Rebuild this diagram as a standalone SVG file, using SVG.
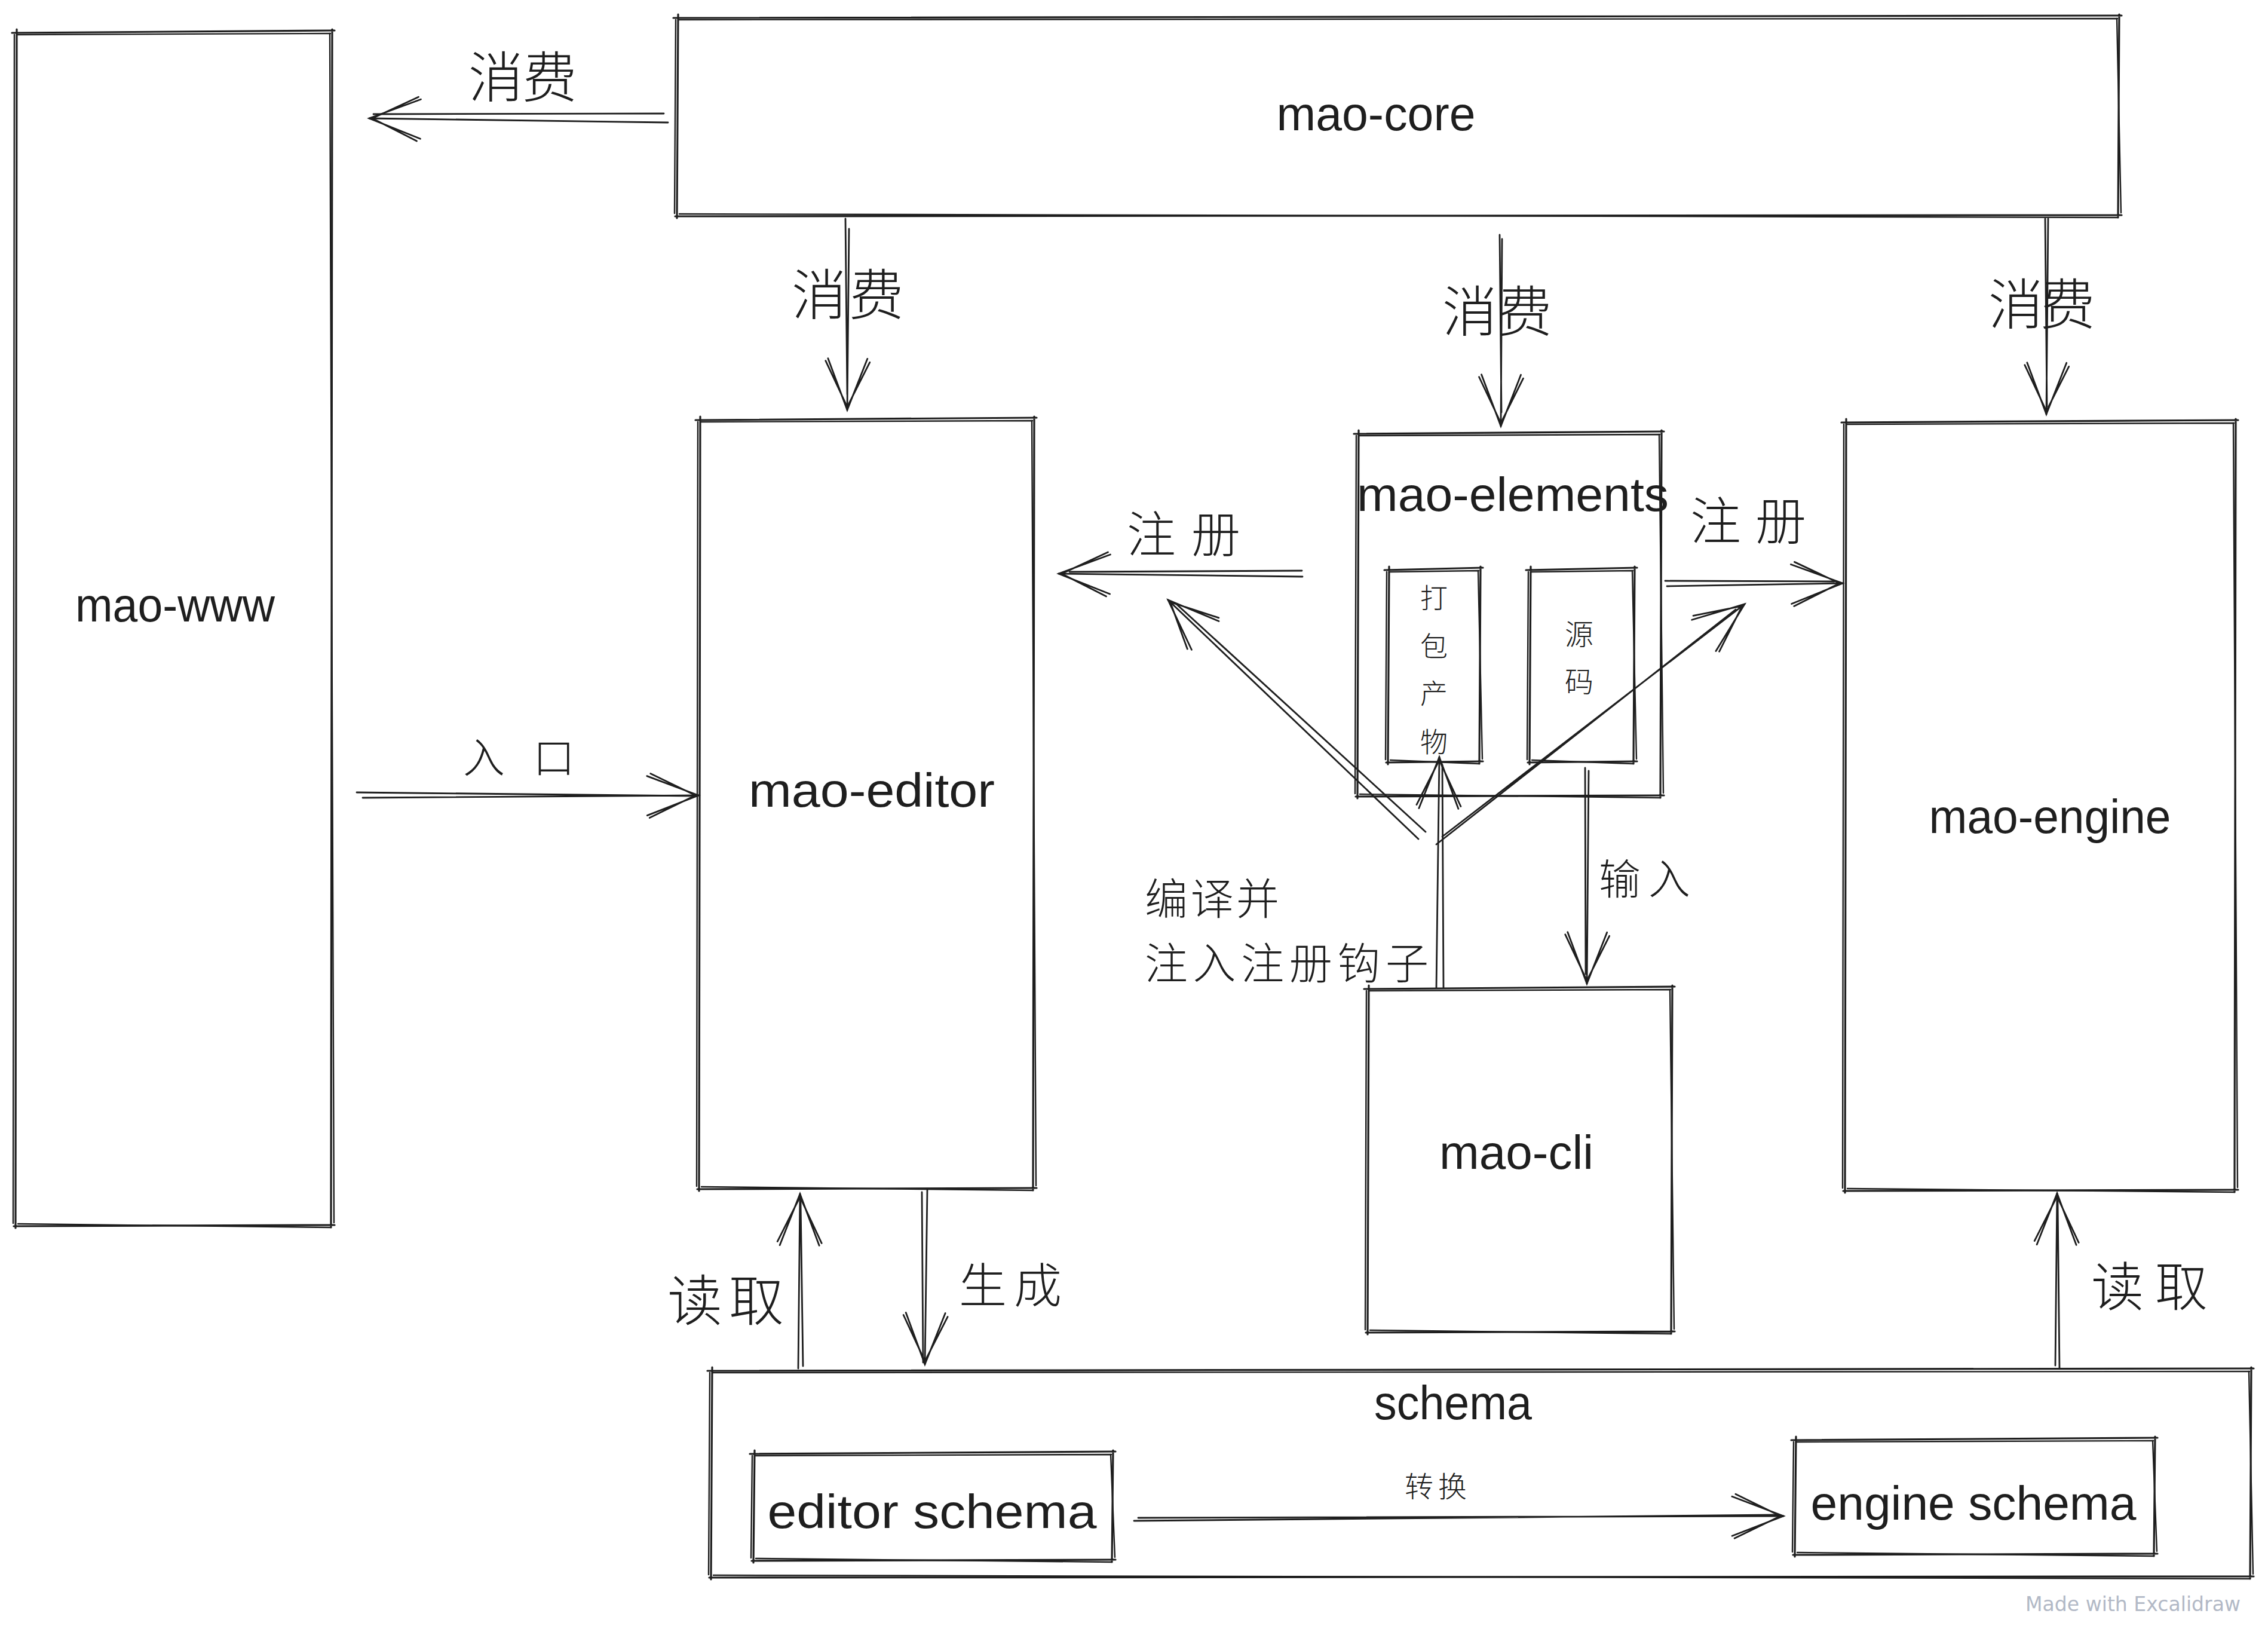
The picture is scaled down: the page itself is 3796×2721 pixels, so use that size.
<svg xmlns="http://www.w3.org/2000/svg" width="3796" height="2721" viewBox="0 0 3796 2721">
<style>
.a{fill:none;stroke:#1e1e1e;stroke-width:3.2;stroke-linecap:round;stroke-linejoin:round}
.b{fill:none;stroke:#1e1e1e;stroke-width:2.4;stroke-linecap:round;stroke-linejoin:round}
.c{fill:none;stroke:#1e1e1e;stroke-width:2.8;stroke-linecap:round}
.lat{font-family:"Liberation Sans","Noto Sans CJK SC",sans-serif;font-size:80px;fill:#1e1e1e;text-anchor:middle}
.cjk{font-family:"Noto Sans CJK SC","Noto Sans",sans-serif;fill:#1e1e1e;font-weight:300}
.wm{font-family:"DejaVu Sans","Liberation Sans",sans-serif;font-size:34px;fill:#b2b9c6}
</style>
<defs>
<marker id="arr" markerUnits="userSpaceOnUse" viewBox="-100 -50 110 100" markerWidth="110" markerHeight="100" refX="0" refY="0" orient="auto" overflow="visible">
<path class="c" d="M-86,-33 L0,0 L-86,33 M-80,-37 L-3,1 M-3,-1 L-82,37"/>
</marker>
</defs>
<rect width="3796" height="2721" fill="#ffffff"/>

<g id="mao-www">
<path class="a" d="M20,55 L560,51 M556,49 L554,2054 M560,2050 L23,2052 M26,2055 L28,49"/>
<path class="b" d="M29,58 L553,56 M552,56 L559,2046 M553,2054 L30,2048 M22,2047 L24,58"/>
<text class="lat" x="293" y="1040" textLength="334" lengthAdjust="spacingAndGlyphs">mao-www</text>
</g>

<g id="mao-core">
<path class="a" d="M1127,30 L3551,26 M3547,24 L3545,364 M3551,360 L1130,362 M1133,365 L1135,24"/>
<path class="b" d="M1136,33 L3544,31 M3543,31 L3550,356 M3544,364 L1137,358 M1129,357 L1131,33"/>
<text class="lat" x="2303" y="218" textLength="333" lengthAdjust="spacingAndGlyphs">mao-core</text>
</g>

<g id="mao-editor">
<path class="a" d="M1164,703 L1735,699 M1731,697 L1729,1992 M1735,1988 L1167,1990 M1170,1993 L1172,697"/>
<path class="b" d="M1173,706 L1728,704 M1727,704 L1734,1984 M1728,1992 L1174,1986 M1166,1985 L1168,706"/>
<text class="lat" x="1459" y="1350" textLength="412" lengthAdjust="spacingAndGlyphs">mao-editor</text>
</g>

<g id="mao-elements">
<path class="a" d="M2266,726 L2785,722 M2781,720 L2779,1335 M2785,1331 L2269,1333 M2272,1336 L2274,720"/>
<path class="b" d="M2275,729 L2778,727 M2777,727 L2784,1327 M2778,1335 L2276,1329 M2268,1328 L2270,729"/>
<text class="lat" x="2532" y="855" textLength="522" lengthAdjust="spacingAndGlyphs">mao-elements</text>
</g>

<g id="build-output">
<path class="a" d="M2317,954 L2482,950 M2478,948 L2476,1278 M2482,1274 L2320,1276 M2323,1279 L2325,948"/>
<path class="b" d="M2326,957 L2475,955 M2474,955 L2481,1270 M2475,1278 L2327,1272 M2319,1271 L2321,957"/>
<text class="cjk" font-size="46" text-anchor="middle"><tspan x="2400" y="1017">打</tspan><tspan x="2400" y="1098">包</tspan><tspan x="2400" y="1177">产</tspan><tspan x="2400" y="1258">物</tspan></text>
</g>

<g id="source-code">
<path class="a" d="M2554,954 L2740,950 M2736,948 L2734,1278 M2740,1274 L2557,1276 M2560,1279 L2562,948"/>
<path class="b" d="M2563,957 L2733,955 M2732,955 L2739,1270 M2733,1278 L2564,1272 M2556,1271 L2558,957"/>
<text class="cjk" font-size="48" text-anchor="middle"><tspan x="2643" y="1079">源</tspan><tspan x="2643" y="1158">码</tspan></text>
</g>

<g id="mao-engine">
<path class="a" d="M3082,707 L3746,703 M3742,701 L3740,1995 M3746,1991 L3085,1993 M3088,1996 L3090,701"/>
<path class="b" d="M3091,710 L3739,708 M3738,708 L3745,1987 M3739,1995 L3092,1989 M3084,1988 L3086,710"/>
<text class="lat" x="3431" y="1394" textLength="405" lengthAdjust="spacingAndGlyphs">mao-engine</text>
</g>

<g id="mao-cli">
<path class="a" d="M2283,1655 L2803,1651 M2799,1649 L2797,2232 M2803,2228 L2286,2230 M2289,2233 L2291,1649"/>
<path class="b" d="M2292,1658 L2796,1656 M2795,1656 L2802,2224 M2796,2232 L2293,2226 M2285,2225 L2287,1658"/>
<text class="lat" x="2538" y="1956" textLength="258" lengthAdjust="spacingAndGlyphs">mao-cli</text>
</g>

<g id="schema">
<path class="a" d="M1184,2294 L3772,2290 M3768,2288 L3766,2642 M3772,2638 L1187,2640 M1190,2643 L1192,2288"/>
<path class="b" d="M1193,2297 L3765,2295 M3764,2295 L3771,2634 M3765,2642 L1194,2636 M1186,2635 L1188,2297"/>
<text class="lat" x="2432" y="2375" textLength="264" lengthAdjust="spacingAndGlyphs">schema</text>
</g>

<g id="editor-schema">
<path class="a" d="M1255,2433 L1867,2429 M1863,2427 L1861,2614 M1867,2610 L1258,2612 M1261,2615 L1263,2427"/>
<path class="b" d="M1264,2436 L1860,2434 M1859,2434 L1866,2606 M1860,2614 L1265,2608 M1257,2607 L1259,2436"/>
<text class="lat" x="1560" y="2557" textLength="551" lengthAdjust="spacingAndGlyphs">editor schema</text>
</g>

<g id="engine-schema">
<path class="a" d="M2998,2410 L3611,2406 M3607,2404 L3605,2604 M3611,2600 L3001,2602 M3004,2605 L3006,2404"/>
<path class="b" d="M3007,2413 L3604,2411 M3603,2411 L3610,2596 M3604,2604 L3008,2598 M3000,2597 L3002,2413"/>
<text class="lat" x="3303" y="2543" textLength="545" lengthAdjust="spacingAndGlyphs">engine schema</text>
</g>

<g id="connectors">
<path class="c" marker-end="url(#arr)" d="M1111,190 L625,191 M1118,205 L618,198"/>
<path class="c" marker-end="url(#arr)" d="M1415,366 L1418,660 M1421,383 L1418,686"/>
<path class="c" marker-end="url(#arr)" d="M2510,393 L2513,690 M2514,400 L2512,713"/>
<path class="c" marker-end="url(#arr)" d="M3423,366 L3426,680 M3428,366 L3425,693"/>
<path class="c" marker-end="url(#arr)" d="M2179,955 L1790,957 M2180,965 L1772,960"/>
<path class="c" marker-end="url(#arr)" d="M2787,972 L3070,973 M2790,981 L3084,976"/>
<path class="c" marker-end="url(#arr)" d="M597,1326 L1160,1332 M607,1335 L1169,1331"/>
<path class="c" marker-end="url(#arr)" d="M2416,1653 L2414,1280 M2404,1653 L2409,1267"/>
<path class="c" marker-end="url(#arr)" d="M2386,1392 L1968,1010 M2374,1404 L1955,1004"/>
<path class="c" marker-end="url(#arr)" d="M2404,1413 L2905,1020 M2414,1400 L2920,1011"/>
<path class="c" marker-end="url(#arr)" d="M2653,1285 L2654,1630 M2659,1290 L2656,1646"/>
<path class="c" marker-end="url(#arr)" d="M1344,2286 L1340,2010 M1336,2290 L1339,1998"/>
<path class="c" marker-end="url(#arr)" d="M1543,1995 L1545,2280 M1552,1991 L1548,2283"/>
<path class="c" marker-end="url(#arr)" d="M3447,2290 L3444,2010 M3440,2285 L3443,1997"/>
<path class="c" marker-end="url(#arr)" d="M1898,2545 L2975,2535 M1905,2540 L2985,2537"/>
</g>

<g id="labels">
<text class="cjk" font-size="92" x="784" y="163" textLength="182" lengthAdjust="spacing">消费</text>
<text class="cjk" font-size="92" x="1325" y="527" textLength="188" lengthAdjust="spacing">消费</text>
<text class="cjk" font-size="92" x="2414" y="555" textLength="184" lengthAdjust="spacing">消费</text>
<text class="cjk" font-size="92" x="3328" y="543" textLength="179" lengthAdjust="spacing">消费</text>
<text class="cjk" font-size="82" x="1886" y="924" textLength="190" lengthAdjust="spacing">注册</text>
<text class="cjk" font-size="85" x="2829" y="903" textLength="194" lengthAdjust="spacing">注册</text>
<text class="cjk" font-size="70" x="775" y="1294" textLength="187" lengthAdjust="spacing">入口</text>
<text class="cjk" font-size="70" x="2676" y="1497" textLength="153" lengthAdjust="spacing">输入</text>
<text class="cjk" font-size="72" x="1916" y="1530" textLength="225" lengthAdjust="spacing">编译并</text>
<text class="cjk" font-size="72" x="1916" y="1638" textLength="475" lengthAdjust="spacing">注入注册钩子</text>
<text class="cjk" font-size="92" x="1117" y="2210" textLength="195" lengthAdjust="spacing">读取</text>
<text class="cjk" font-size="80" x="1605" y="2180" textLength="172" lengthAdjust="spacing">生成</text>
<text class="cjk" font-size="88" x="3500" y="2185" textLength="195" lengthAdjust="spacing">读取</text>
<text class="cjk" font-size="48" x="2351" y="2505" textLength="104" lengthAdjust="spacing">转换</text>
</g>

<text class="wm" x="3390" y="2696" textLength="360" lengthAdjust="spacingAndGlyphs">Made with Excalidraw</text>
</svg>
